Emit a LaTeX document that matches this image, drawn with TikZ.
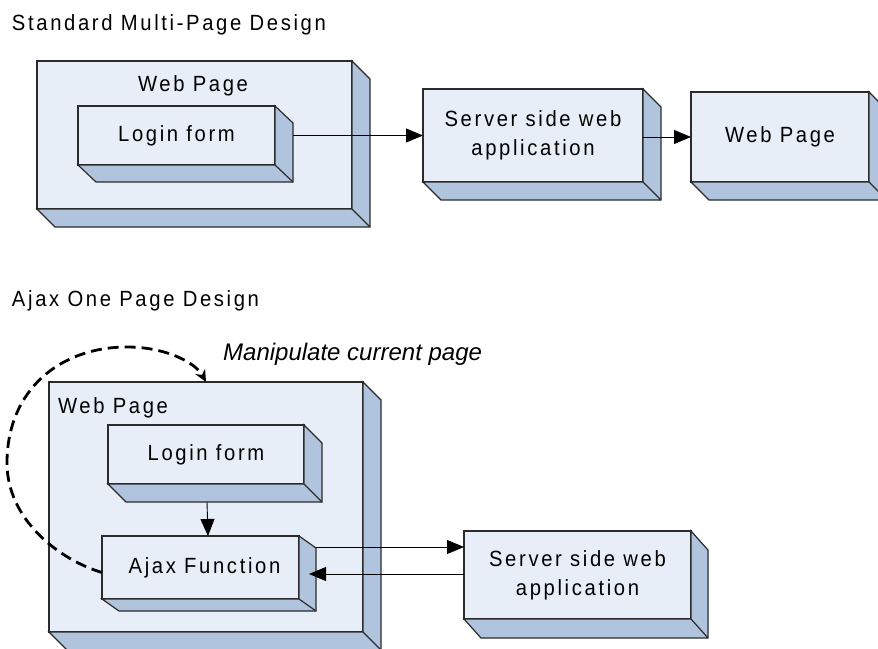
\documentclass[tikz,border=0pt]{standalone}
\usepackage{fontspec}
\setmainfont{Liberation Sans}
\newfontfamily\boxfont[FakeStretch=0.92,LetterSpace=12]{Liberation Sans}
\usetikzlibrary{arrows.meta,calc}
\definecolor{frontc}{HTML}{E8EEF8}
\definecolor{sidec}{HTML}{B0C4DE}
\definecolor{linec}{HTML}{2B2B2B}
\newcommand{\depthfaces}[3]{%
  \draw[sideface] (#1.north east) -- ++(#2,#3) -- ($(#1.south east)+(#2,#3)$) -- ($(#1.south west)+(#2,#3)$) -- (#1.south west) -- (#1.south east) -- cycle;
  \draw[sideface] (#1.south east) -- ++(#2,#3);}
\begin{document}
\begin{tikzpicture}[x=1pt,y=-1pt,
  frontbox/.style={draw=linec,fill=frontc,line width=1.2pt,inner sep=0pt,outer sep=0pt,align=center,
    font=\boxfont\fontsize{22}{29}\selectfont},
  sideface/.style={draw=linec,fill=sidec,line width=1.2pt,line join=miter},
  txt/.style={inner sep=0pt,outer sep=0pt,font=\boxfont\fontsize{22}{29}\selectfont},
  conn/.style={draw=black,line width=0.9pt,-{Triangle[length=17pt,width=14pt]}},
  loop/.style={draw=black,line width=2.8pt,dash pattern=on 11pt off 6pt,-{Stealth[length=12pt,width=11pt]}}]
\useasboundingbox (0,0) rectangle (878,648);

% ---------- Standard multi-page design ----------
\node[txt,anchor=base west] (t1) at (12,30) {Standard Multi-Page Design};

\node[frontbox,minimum width=315,minimum height=148] (wp1) at (194.5,135) {};
\depthfaces{wp1}{18}{18}
\node[txt,anchor=base] (wp1lab) at (193,91) {Web Page};

\node[frontbox,minimum width=197,minimum height=59] (lf1) at (176.5,135.5) {Login form};
\depthfaces{lf1}{18}{17}

\node[frontbox,minimum width=220,minimum height=93] (sv1) at (533,135.5) {Server side web\\application};
\depthfaces{sv1}{18}{18}

\node[frontbox,minimum width=178,minimum height=90] (wp2) at (780,137) {Web Page};
\depthfaces{wp2}{18}{18}

\draw[conn] ([xshift=18pt]lf1.east) -- (sv1.west);
\draw[conn] (sv1.east |- wp2.west) -- (wp2.west);

% ---------- Ajax one page design ----------
\node[txt,anchor=base west] (t2) at (12,306) {Ajax One Page Design};
\node[anchor=base west,inner sep=0pt,font=\fontsize{24}{28}\selectfont\itshape] (manip) at (223,360.5) {Manipulate current page};

\node[frontbox,minimum width=314,minimum height=250] (wp3) at (206,507) {};
\depthfaces{wp3}{18}{18}
\node[txt,anchor=base west] (wp3lab) at (58,413) {Web Page};

\node[frontbox,minimum width=196,minimum height=59] (lf2) at (206,454.5) {Login form};
\depthfaces{lf2}{18}{18}

\node[frontbox,minimum width=197,minimum height=63] (aj) at (200.5,567.5) {\hspace*{8pt}Ajax Function};
\depthfaces{aj}{17}{12}

\node[frontbox,minimum width=227,minimum height=88] (sv2) at (577.5,575) {Server side web\\application};
\depthfaces{sv2}{17}{19}

\draw[conn] ([xshift=1pt,yshift=-18pt]lf2.south) -- ([xshift=7.5pt]aj.north);

\coordinate (a1) at ([xshift=17pt,yshift=20.5pt]aj.east);
\draw[conn] (a1) -- (a1 -| sv2.west);
\coordinate (a2) at ([xshift=10pt]aj.east);
\coordinate (a3) at ([yshift=1pt]sv2.west);
\draw[conn] (a3) -- (a2 |- a3);

\coordinate (ls) at ([yshift=-5pt]aj.west);
\draw[loop] (ls) .. controls (60,560) and (7,520) .. (7,463)
  .. controls (7,390) and (60,347) .. (127,347)
  .. controls (165,347) and (195,362) .. (wp3.north);
\end{tikzpicture}
\end{document}
